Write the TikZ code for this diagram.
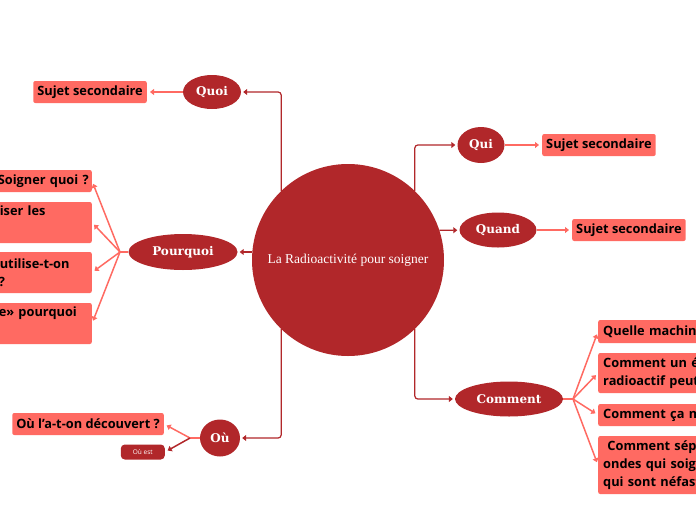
\documentclass[tikz,border=0pt]{standalone}
\usepackage{fontspec}
\setmainfont{Open Sans}
\newfontfamily\topicfont{DejaVu Serif}
\newfontfamily\rootfont{Liberation Serif}
\usetikzlibrary{arrows.meta,shapes.geometric,calc}
\definecolor{mmred}{HTML}{B1272A}
\definecolor{mmsalmon}{HTML}{FF6A62}

\begin{document}
\begin{tikzpicture}[x=1pt, y=-1pt,
        root/.style={circle, fill=mmred, text=white, minimum size=192pt, inner sep=0pt, font=\rootfont\fontsize{13.5}{15}\selectfont},
        topic/.style={ellipse, fill=mmred, text=white, minimum height=35pt, inner sep=0pt, font=\topicfont\bfseries\fontsize{12}{14}\selectfont},
        sub/.style={fill=mmsalmon, rounded corners=2pt, minimum height=22pt, inner ysep=3pt, inner xsep=4pt, align=left, font=\bfseries\fontsize{12.8}{18}\selectfont},
        subL/.style={sub, anchor=east, text width=92pt, inner xsep=2pt},
        subR/.style={sub, anchor=west, text width=130pt, inner xsep=5pt},
        note/.style={fill=mmred, text=white, rounded corners=4pt, anchor=east, minimum width=44pt, minimum height=15pt, inner sep=0pt, font=\fontsize{6.5}{7}\selectfont},
        trunk/.style={draw=mmred, line width=1.2pt, rounded corners=3pt, -{Triangle[length=4pt,width=6pt]}, shorten >=2pt},
        leaf/.style={draw=mmsalmon, line width=1.5pt, -{Triangle[length=4pt,width=6pt]}, shorten >=3pt},
        leafline/.style={draw=mmsalmon, line width=1.5pt}
    ]
    \useasboundingbox (0,0) rectangle (696,520);

    \node[root] (root) at (348,260) {La Radioactivité pour soigner};

    \node[topic, minimum width=58pt, minimum height=34pt] (quoi) at (212,92) {Quoi};
    \node[topic, minimum width=109pt, minimum height=36pt] (pourquoi) at (183,252) {Pourquoi};
    \node[topic, minimum width=40pt, minimum height=37pt] (ou) at (220,438) {Où};
    \node[topic, minimum width=47pt, minimum height=36pt] (qui) at (481,145) {Qui};
    \node[topic, minimum width=77pt] (quand) at (498,230) {Quand};
    \node[topic, minimum width=108pt] (comment) at (509,399) {Comment};

    \node[sub, anchor=east] (quoisub) at (147,92) {Sujet secondaire};
    \node[sub, anchor=west] (quisub) at (542,145) {Sujet secondaire};
    \node[sub, anchor=west] (quandsub) at (572,230) {Sujet secondaire};
    \node[sub, anchor=east] (ousub) at (164,424) {Où l’a-t-on découvert ?};
    \node[note] (ouest) at (165,452) {Où est};

    \node[subL] (pq1) at (92,181) {Soigner quoi ?};
    \node[subL, minimum height=41pt] (pq2) at (92,222.5) {\hspace*{2pt}iser les\\\strut};
    \node[subL, minimum height=41pt] (pq3) at (92,272.5) {\hspace*{2pt}utilise-t-on\\\hspace*{1pt}?};
    \node[subL, minimum height=41pt] (pq4) at (92,323.5) {\hspace*{1pt}e» pourquoi\\\strut};

    \node[subR, minimum height=23pt] (cm1) at (598,331.5) {Quelle machin};
    \node[subR, minimum height=40pt] (cm2) at (598,373) {Comment un é\\radioactif peut};
    \node[subR] (cm3) at (598,415) {Comment ça m};
    \node[subR, minimum height=58pt] (cm4) at (598,465) {\ Comment sép\\ondes qui soig\\qui sont néfast};

    \coordinate (pqj) at (120,252);
    \coordinate (cmj) at (573,399);
    \coordinate (ouj) at (190,438);

    \draw[trunk] (root.134) |- (quoi);
    \draw[trunk] (root.west |- pourquoi) -- (pourquoi);
    \draw[trunk] (root.-134) |- (ou);
    \draw[trunk] (root.46) |- (qui);
    \draw[trunk] (root.18) -- (quand);
    \draw[trunk] (root.-46) |- (comment);

    \draw[leaf] (quoi) -- (quoisub);
    \draw[leaf] (qui) -- (quisub);
    \draw[leaf] (quand) -- (quandsub);

    \draw[leafline] (pourquoi) -- (pqj);
    \foreach \n in {pq1,pq2,pq3,pq4}
        \draw[leaf] (pqj) -- (\n.east);

    \draw[leafline] (comment) -- (cmj);
    \foreach \n in {cm1,cm2,cm3,cm4}
        \draw[leaf] (cmj) -- (\n.west);

    \draw[leafline] (ou) -- (ouj);
    \draw[leaf] (ouj) -- (ousub.east);
    \draw[leaf, draw=mmred] (ouj) -- (ouest.east);
\end{tikzpicture}
\end{document}
